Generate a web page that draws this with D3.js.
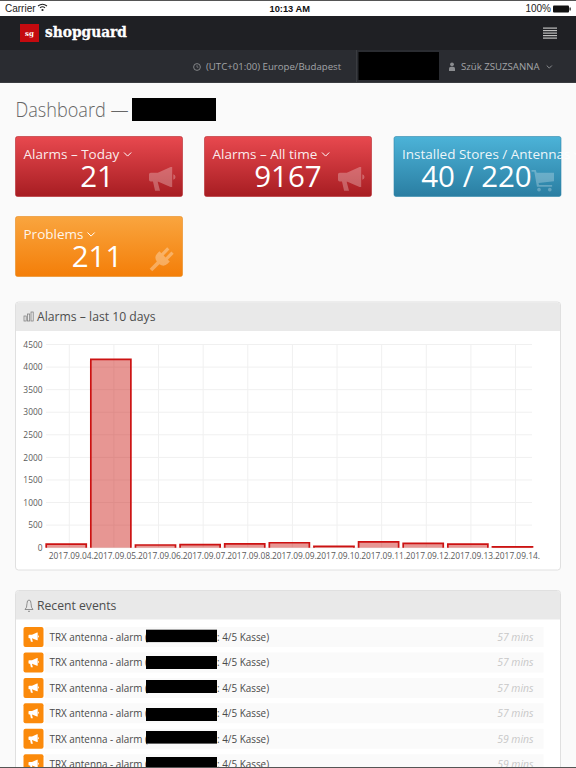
<!DOCTYPE html>
<html>
<head>
<meta charset="utf-8">
<title>Dashboard</title>
<script src="https://cdn.jsdelivr.net/npm/d3@7"></script>
<style>
  html, body { margin: 0; padding: 0; background: #fafafa; overflow: hidden; }
  svg { display: block; font-family: "Open Sans", sans-serif; }
</style>
</head>
<body>
<div id="page"></div>
<script>
const dates = ["2017.09.04.", "2017.09.05.", "2017.09.06.", "2017.09.07.", "2017.09.08.", "2017.09.09.",
  "2017.09.10.", "2017.09.11.", "2017.09.12.", "2017.09.13.", "2017.09.14."];
const alarmCounts = [80, 4170, 60, 70, 85, 110, 30, 130, 95, 80, 20];
const yTicks = [0, 500, 1000, 1500, 2000, 2500, 3000, 3500, 4000, 4500];

const cardTitles = ["Alarms – Today", "Alarms – All time", "Installed Stores / Antennas", "Problems"];
const cardValues = ["21", "9167", "40 / 220", "211"];
const eventAges = ["57 mins", "57 mins", "57 mins", "57 mins", "59 mins", "59 mins"];

const width = 576, height = 768;
const svg = d3.select("#page").append("svg").attr("width", width).attr("height", height);
const defs = svg.append("defs");

function gradient(id, top, bottom) {
  const g = defs.append("linearGradient").attr("id", id).attr("x2", 0).attr("y2", 1);
  g.append("stop").attr("offset", "0%").attr("stop-color", top);
  g.append("stop").attr("offset", "100%").attr("stop-color", bottom);
}
gradient("red", "#e8494f", "#a71d22");
gradient("blue", "#4cb3d8", "#2a7ea2");
gradient("orange", "#f9a53f", "#f47e08");

// icons, drawn in a 24x24 box
const megaphone = "M21 1 L21 19 L19.5 19 L8 14 L8 15 L10 22.5 L5.5 22.5 L3.6 14 L1.5 14 Q0 14 0 12.5 L0 7.5 Q0 6 1.5 6 L8 6 L19.5 1 Z M22 7.5 Q24 8.2 24 10 Q24 11.8 22 12.5 Z";
const plug = "M7 -1 H10.5 V8 H13.5 V-1 H17 V8 H20 V11 Q20 17 14 18 V29 H10 V18 Q4 17 4 11 V8 H7 Z";
const cart = "M0 1 L4.5 1 L5.5 4 L24 4 L24 13 L7.5 15 L8 17 L22 17 L22 19 L5.8 19 L3 3 L0 3 Z M8 20 a2 2 0 1 0 .01 0 Z M19.5 20 a2 2 0 1 0 .01 0 Z";

function icon(parent, d, x, y, size, fill, opacity, rotate = 0) {
  parent.append("path").attr("d", d)
    .attr("transform", `translate(${x},${y}) scale(${size / 24}) rotate(${rotate},12,12)`)
    .attr("fill", fill).attr("fill-opacity", opacity);
}

function label(parent, x, y, str, size, fill, anchor = "start", family = null, weight = null) {
  const t = parent.append("text").attr("x", x).attr("y", y).text(str)
    .attr("font-size", size).attr("fill", fill).attr("text-anchor", anchor);
  if (family) t.attr("font-family", family);
  if (weight) t.attr("font-weight", weight);
  return t;
}

function redact(x, y, w, h) {
  svg.append("rect").attr("x", x).attr("y", y).attr("width", w).attr("height", h).attr("fill", "#000");
}

function chevron(parent, x, y, size, stroke) {
  parent.append("path").attr("d", `M${x} ${y} l${size} ${size} l${size} ${-size}`)
    .attr("fill", "none").attr("stroke", stroke).attr("stroke-width", 1);
}

// status bar
const sys = '"Liberation Sans", sans-serif';
svg.append("rect").attr("width", width).attr("height", 16).attr("fill", "#fff");
svg.append("rect").attr("width", width).attr("height", 1).attr("fill", "#555");
label(svg, 5, 12, "Carrier", 10, "#222", "start", sys);
const wifi = svg.append("g").attr("fill", "none").attr("stroke", "#222").attr("stroke-width", 1.1);
wifi.append("path").attr("d", "M38 6 Q42.5 2.6 47 6");
wifi.append("path").attr("d", "M40 7.8 Q42.5 5.6 45 7.8");
svg.append("circle").attr("cx", 42.5).attr("cy", 10).attr("r", 1.1).attr("fill", "#222");
label(svg, 269.5, 12, "10:13 AM", 9.3, "#111", "start", sys, 700);
label(svg, 551, 12, "100%", 10, "#222", "end", sys);
svg.append("rect").attr("x", 553).attr("y", 5.5).attr("width", 16).attr("height", 7).attr("rx", 1).attr("fill", "#111");
svg.append("rect").attr("x", 569.5).attr("y", 7.5).attr("width", 1.2).attr("height", 3).attr("fill", "#111");

// navbars
svg.append("rect").attr("y", 16).attr("width", width).attr("height", 34).attr("fill", "#1f2024");
svg.append("rect").attr("y", 50).attr("width", width).attr("height", 32).attr("fill", "#2a2c31");
svg.append("rect").attr("y", 82).attr("width", width).attr("height", 1).attr("fill", "#3a3c40");
svg.append("rect").attr("x", 20).attr("y", 24).attr("width", 19).attr("height", 18).attr("fill", "#c40a0f");
label(svg, 29.5, 36, "sg", 7, "#fff", "middle", '"DejaVu Serif", serif', 700);
label(svg, 45, 37, "shopguard", 15, "#fff", "start", '"DejaVu Serif", serif', 700)
  .attr("textLength", 82).attr("lengthAdjust", "spacingAndGlyphs").attr("stroke", "#fff").attr("stroke-width", .3);
[27.5, 30, 32.5, 35, 37.5].forEach(y => {
  svg.append("rect").attr("x", 543).attr("y", y).attr("width", 14).attr("height", 1.2).attr("fill", "#c0c0c0");
});

svg.append("circle").attr("cx", 197).attr("cy", 67).attr("r", 3.4).attr("fill", "none").attr("stroke", "#8b8d90").attr("stroke-width", 0.9);
svg.append("path").attr("d", "M197 65.2 V67.2 H198.4").attr("fill", "none").attr("stroke", "#8b8d90").attr("stroke-width", .7);
label(svg, 206, 70, "(UTC+01:00) Europe/Budapest", 9.65, "#a3a5a8");
svg.append("line").attr("x1", 356.5).attr("x2", 356.5).attr("y1", 50).attr("y2", 82).attr("stroke", "#3a3c40");
redact(358.5, 52, 80.5, 28);
svg.append("circle").attr("cx", 452).attr("cy", 64.3).attr("r", 1.9).attr("fill", "#8b8d90");
svg.append("path").attr("d", "M449 71 V68.5 Q449 66.8 451 66.8 H453 Q455 66.8 455 68.5 V71 Z").attr("fill", "#8b8d90");
label(svg, 461, 70, "Szük ZSUZSANNA", 9.65, "#a3a5a8");
chevron(svg, 546.7, 65.5, 2.6, "#8b8d90");

// page title
label(svg, 15.5, 116.7, "Dashboard —", 21, "#666", "start", null, 300)
  .attr("textLength", 113).attr("lengthAdjust", "spacingAndGlyphs");
redact(132, 98, 84, 23);

// stat cards
const cards = [
  { x: 15.5, y: 136.5, fill: "url(#red)", stroke: "#b5272c", d: megaphone, vx: 97, ix: 149, iy: 166, is: 26.5, io: .28, rot: 0, cx: 124 },
  { x: 204.5, y: 136.5, fill: "url(#red)", stroke: "#b5272c", d: megaphone, vx: 288, ix: 338, iy: 166, is: 26.5, io: .28, rot: 0, cx: 322 },
  { x: 394, y: 136.5, fill: "url(#blue)", stroke: "#3088ab", d: cart, vx: 476.5, ix: 531.5, iy: 169, is: 22.5, io: .26, rot: 0, cx: 574 },
  { x: 15.5, y: 216.5, fill: "url(#orange)", stroke: "#e88a1d", d: plug, vx: 97, ix: 151, iy: 248, is: 22, io: .32, rot: 45, cx: 87.5 }
];
cards.forEach((c, i) => {
  const g = svg.append("g");
  g.append("rect").attr("x", c.x).attr("y", c.y).attr("width", 167).attr("height", 60).attr("rx", 2)
    .attr("fill", c.fill).attr("stroke", c.stroke).attr("stroke-width", .6);
  icon(g, c.d, c.ix, c.iy, c.is, "#fff", c.io, c.rot);
  label(g, c.x + 8, c.y + 22, cardTitles[i], 13.5, "#fff").attr("fill-opacity", .92);
  label(g, c.vx, c.y + 50.5, cardValues[i], 29.5, "#fff", "middle");
  chevron(g, c.cx, c.y + 16, 3.6, "#fff");
});

function panel(y, h, title) {
  const g = svg.append("g");
  g.append("rect").attr("x", 15.5).attr("y", y).attr("width", 545).attr("height", h).attr("rx", 3)
    .attr("fill", "#fff").attr("stroke", "#e0e0e0");
  g.append("path").attr("d", `M16 ${y + 29} V${y + 3} Q16 ${y + .5} 19 ${y + .5} H557 Q560 ${y + .5} 560 ${y + 3} V${y + 29} Z`)
    .attr("fill", "#e9e9e9");
  label(g, 37, y + 19, title, 12.2, "#4d4d4d");
  return g;
}

// chart panel
const chartPanel = panel(302, 268, "Alarms – last 10 days");
const barIcon = chartPanel.append("g").attr("fill", "none").attr("stroke", "#777").attr("stroke-width", .7);
[[24, 316, 2.2, 5], [27.5, 314, 2.2, 7], [31, 312, 2.2, 9]].forEach(b => {
  barIcon.append("rect").attr("x", b[0]).attr("y", b[1]).attr("width", b[2]).attr("height", b[3]);
});

const x = d3.scaleBand().domain(dates).range([45.7, 533]).paddingInner(0.08).paddingOuter(0).align(0);
const y = d3.scaleLinear().domain([0, 4500]).range([547.7, 344.5]);
const xGrid = d => x(d) + x.step() / 2 + 1.3;

const chart = svg.append("g");
chart.append("g").selectAll("line").data(yTicks).join("line")
  .attr("x1", 46).attr("x2", 532).attr("y1", d => y(d)).attr("y2", d => y(d))
  .attr("stroke", "#f0f0f0");
chart.append("g").selectAll("line").data(dates).join("line")
  .attr("x1", xGrid).attr("x2", xGrid).attr("y1", y(4500)).attr("y2", y(0))
  .attr("stroke", "#f0f0f0");

chart.append("g").selectAll("rect").data(alarmCounts).join("rect")
  .attr("x", (d, i) => x(dates[i]) + .5)
  .attr("y", d => y(d))
  .attr("width", x.bandwidth() - 1)
  .attr("height", d => y(0) - y(d))
  .attr("fill", "#c9160f").attr("fill-opacity", .45);
chart.append("g").selectAll("path").data(alarmCounts).join("path")
  .attr("d", (d, i) => {
    const a = x(dates[i]) + .5, b = a + x.bandwidth() - 1;
    return `M${a} ${y(0)} V${y(d)} H${b} V${y(0)}`;
  })
  .attr("fill", "none").attr("stroke", "#cc1212").attr("stroke-width", 1.7);

const yAxis = chart.append("g").attr("transform", "translate(42.5,0)")
  .call(d3.axisLeft(y).tickValues(yTicks).tickSize(0).tickPadding(0).tickFormat(d3.format("d")));
yAxis.select(".domain").remove();
yAxis.selectAll("text").attr("font-family", '"Open Sans", sans-serif').attr("font-size", 8.4).attr("fill", "#5a5a5a");

const xAxis = chart.append("g").attr("transform", "translate(5,553)")
  .call(d3.axisBottom(x).tickSize(0).tickPadding(0));
xAxis.select(".domain").remove();
xAxis.selectAll("text").attr("font-family", '"Open Sans", sans-serif').attr("font-size", 8.4).attr("fill", "#5a5a5a");

// recent events
const events = panel(590.5, 200, "Recent events");
const bell = events.append("g").attr("fill", "none").attr("stroke", "#777").attr("stroke-width", .8);
bell.append("path").attr("d", "M25 609.5 Q27 608 27 603.5 Q27 600 29 600 Q31 600 31 603.5 Q31 608 33 609.5 Z");
bell.append("path").attr("d", "M28 611 Q29 612.2 30 611");

const rowY = [627, 652.5, 678, 703.3, 728.8, 754.3];
const blackY = [[629.7, 12.4], [656, 13], [680, 13], [708, 13], [731, 12.6], [757, 11]];
eventAges.forEach((age, i) => {
  const top = rowY[i];
  events.append("rect").attr("x", 45).attr("y", top).attr("width", 498.5).attr("height", 20).attr("fill", "#fafafa");
  events.append("rect").attr("x", 23.5).attr("y", top).attr("width", 20).attr("height", 20).attr("rx", 2).attr("fill", "#fb8a0b");
  icon(events, megaphone, 28.5, top + 5, 10.5, "#fff", 1);
  label(events, 49.5, top + 13.7, "TRX antenna - alarm (", 9.9, "#4a4a4a");
  label(events, 217, top + 13.7, ": 4/5 Kasse)", 9.9, "#4a4a4a");
  label(events, 533.5, top + 13.7, age, 10.4, "#c8c8c8", "end").attr("font-style", "italic");
  redact(146, blackY[i][0], 71, blackY[i][1]);
});

svg.append("rect").attr("y", 767).attr("width", width).attr("height", 1).attr("fill", "#555");
</script>
</body>
</html>
